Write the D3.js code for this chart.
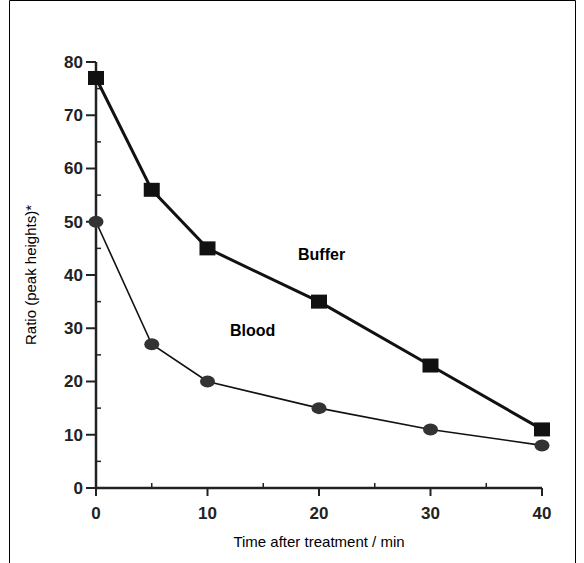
<!DOCTYPE html>
<html><head><meta charset="utf-8">
<script src="https://cdn.jsdelivr.net/npm/d3@7"></script>
<style>body{margin:0;background:#fff}</style></head>
<body><svg id="c" width="584" height="563"></svg>
<script>
const times = [0, 5, 10, 20, 30, 40];
const buffer = [77, 56, 45, 35, 23, 11];
const blood = [50, 27, 20, 15, 11, 8];
const xTicks = [0, 10, 20, 30, 40];
const yTicks = [0, 10, 20, 30, 40, 50, 60, 70, 80];

const svg = d3.select("#c");
svg.append("path").attr("d", "M9.5,563V0.5H575.5V563").attr("fill", "none").attr("stroke", "#000");

const x = d3.scaleLinear().domain([0, 40]).range([96, 542]);
const y = d3.scaleLinear().domain([0, 80]).range([488, 62]);
const font = "Liberation Sans, Arial, sans-serif";

const g = svg.append("g").attr("stroke", "#222");
g.append("line").attr("x1", x(0)).attr("x2", x(40)).attr("y1", y(0)).attr("y2", y(0)).attr("stroke-width", 2.5);
g.append("line").attr("x1", x(0)).attr("x2", x(0)).attr("y1", y(0)).attr("y2", y(80)).attr("stroke-width", 2.5);
xTicks.forEach(t => g.append("line").attr("x1", x(t)).attr("x2", x(t)).attr("y1", y(0)).attr("y2", y(0) + 8).attr("stroke-width", 2));
d3.range(5, 40, 10).forEach(t => g.append("line").attr("x1", x(t)).attr("x2", x(t)).attr("y1", y(0)).attr("y2", y(0) - 5).attr("stroke-width", 1.5));
yTicks.forEach(t => g.append("line").attr("x1", x(0) - 10).attr("x2", x(0)).attr("y1", y(t)).attr("y2", y(t)).attr("stroke-width", 2));
d3.range(5, 80, 10).forEach(t => g.append("line").attr("x1", x(0)).attr("x2", x(0) + 5).attr("y1", y(t)).attr("y2", y(t)).attr("stroke-width", 1.5));

svg.selectAll(".xl").data(xTicks).enter().append("text")
  .attr("x", d => x(d)).attr("y", y(0) + 31).attr("text-anchor", "middle")
  .attr("font-family", font).attr("font-weight", "bold").attr("font-size", 17).attr("fill", "#222").text(d => d);
svg.selectAll(".yl").data(yTicks).enter().append("text")
  .attr("x", x(0) - 13).attr("y", d => y(d)).attr("dy", "0.35em").attr("text-anchor", "end")
  .attr("font-family", font).attr("font-weight", "bold").attr("font-size", 17).attr("fill", "#222").text(d => d);

svg.append("text").attr("x", x(20)).attr("y", 547).attr("text-anchor", "middle")
  .attr("font-family", font).attr("font-size", 15).text("Time after treatment / min");
svg.append("text").attr("transform", `translate(36,${y(40)}) rotate(-90)`).attr("text-anchor", "middle")
  .attr("font-family", font).attr("font-size", 15).text("Ratio (peak heights)*");

const line = d3.line().x((d, i) => x(times[i])).y(d => y(d));
svg.append("path").attr("d", line(buffer)).attr("fill", "none").attr("stroke", "#111").attr("stroke-width", 3);
svg.append("path").attr("d", line(blood)).attr("fill", "none").attr("stroke", "#111").attr("stroke-width", 1.6);
svg.selectAll(".sq").data(buffer).enter().append("rect")
  .attr("x", (d, i) => x(times[i]) - 8).attr("y", d => y(d) - 7).attr("width", 16).attr("height", 14).attr("fill", "#111");
svg.selectAll(".ci").data(blood).enter().append("ellipse")
  .attr("cx", (d, i) => x(times[i])).attr("cy", d => y(d)).attr("rx", 7.5).attr("ry", 6).attr("fill", "#333");

svg.append("text").attr("x", 298).attr("y", 260).attr("font-family", font).attr("font-weight", "bold").attr("font-size", 16).text("Buffer");
svg.append("text").attr("x", 230).attr("y", 336).attr("font-family", font).attr("font-weight", "bold").attr("font-size", 16).text("Blood");
</script></body></html>
